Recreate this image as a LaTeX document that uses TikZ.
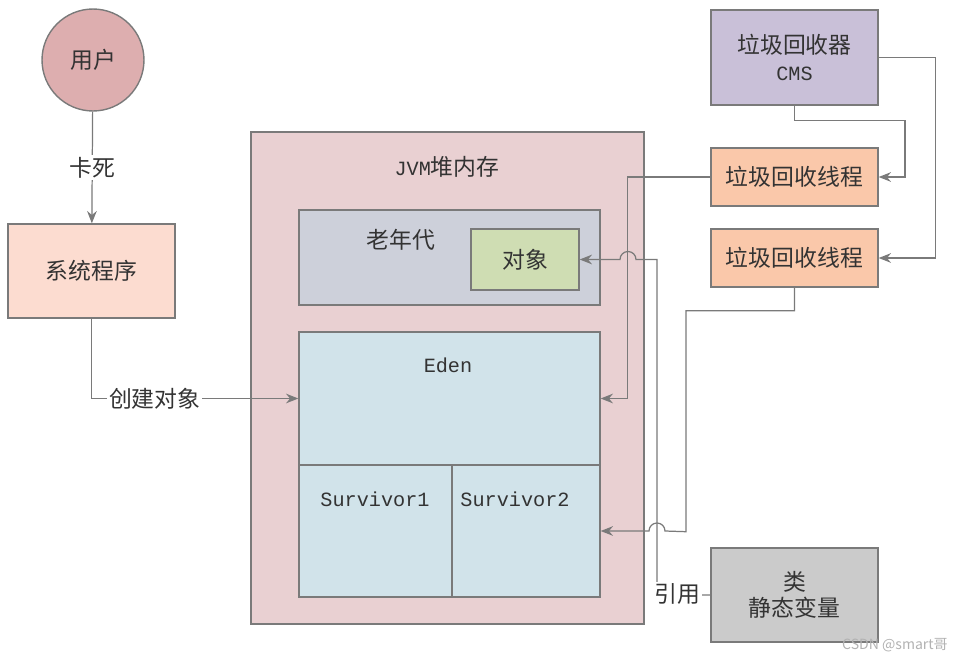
\documentclass[tikz,border=0pt]{standalone}
\usepackage{fontspec}
\setmainfont{Noto Sans CJK SC}
\newfontfamily\monofont{Liberation Mono}
\usetikzlibrary{arrows.meta,positioning}

\definecolor{linegray}{HTML}{7A7A7A}
\definecolor{txtgray}{HTML}{333333}
\definecolor{userfill}{HTML}{DDAEAF}
\definecolor{sysfill}{HTML}{FCDCD0}
\definecolor{jvmfill}{HTML}{E9D0D2}
\definecolor{oldfill}{HTML}{CDD0DA}
\definecolor{objfill}{HTML}{CFDDB3}
\definecolor{edenfill}{HTML}{D1E3EA}
\definecolor{cmsfill}{HTML}{C9C0D8}
\definecolor{gcfill}{HTML}{FAC8AA}
\definecolor{leifill}{HTML}{CBCBCB}

\tikzset{
    box/.style={draw=linegray, line width=0.8pt, rectangle, align=center,
                text=txtgray, font=\fontsize{13}{15}\selectfont, inner sep=0pt},
    conn/.style={draw=linegray, line width=0.7pt, -{Stealth[length=7pt,width=5.5pt]}},
    wire/.style={draw=linegray, line width=0.7pt},
    lbl/.style={fill=white, inner sep=1pt, text=txtgray, font=\fontsize{13}{15}\selectfont},
    tag/.style={text=txtgray, font=\fontsize{13}{15}\selectfont},
    monotag/.style={text=txtgray, font=\monofont\fontsize{11.5}{14}\selectfont}
}

\begin{document}
\begin{tikzpicture}[x=0.02cm, y=-0.02cm]
            \useasboundingbox (0,0) rectangle (961,663);

            % user and program
            \node [circle, draw=linegray, line width=0.8pt, fill=userfill, minimum size=2.04cm,
                   text=txtgray, font=\fontsize{13}{15}\selectfont] (user) at (93,60) {用户};
            \node [box, fill=sysfill, minimum width=3.34cm, minimum height=1.88cm] (sys) at (91.5,271) {系统程序};

            % heap
            \node [box, fill=jvmfill, minimum width=7.86cm, minimum height=9.84cm] (jvm) at (447.5,378) {};
            \node [monotag] (jvmlbl) at (447,167) {JVM\fontsize{13}{15}\selectfont\rmfamily 堆内存};

            \node [box, fill=oldfill, minimum width=6.02cm, minimum height=1.90cm] (old) at (449.5,257.5) {};
            \node [tag] (oldlbl) at (401,240) {老年代};
            \node [box, fill=objfill, minimum width=2.16cm, minimum height=1.22cm] (obj) at (525,259.5) {对象};

            \node [box, fill=edenfill, minimum width=6.02cm, minimum height=2.66cm] (eden) at (449.5,398.5) {};
            \node [monotag] (edenlbl) at (448,365) {Eden};
            \node [box, fill=edenfill, minimum width=3.06cm, minimum height=2.64cm] (survA) at (375.5,531) {};
            \node [monotag] (survAlbl) at (375,499) {Survivor1};
            \node [box, fill=edenfill, minimum width=2.96cm, minimum height=2.64cm] (survB) at (526,531) {};
            \node [monotag] (survBlbl) at (515,499) {Survivor2};

            % collector and threads
            \node [box, fill=cmsfill, minimum width=3.34cm, minimum height=1.90cm] (cms) at (794.5,57.5)
                  {垃圾回收器\\{\monofont\fontsize{11.5}{14}\selectfont CMS}};
            \foreach \nm/\yy in {gcA/177, gcB/258}{
                \node [box, fill=gcfill, minimum width=3.34cm, minimum height=1.16cm] (\nm) at (794.5,\yy) {垃圾回收线程};
            }

            % static class
            \node [box, fill=leifill, minimum width=3.34cm, minimum height=1.88cm] (lei) at (794.5,595) {类\\静态变量};

            % connectors
            \draw [conn] (user) -- node [lbl] {卡死} (sys);
            \draw [conn] (sys.south) |- node [lbl, pos=0.653] {创建对象} (eden.west);

            \draw [conn] (cms.south) -- ++(0,15) -| ++(110.5,0) |- (gcA.east);
            \draw [conn] (cms.east) -- ++(57,0) |- (gcB.east);

            \draw [conn] (gcA.west) -- ++(-83,0) |- (eden.east);
            \draw [conn] (gcB.south) -- ++(0,23) -- ++(-108.5,0) -- ++(0,221) -- (665,531)
                  arc (0:-180:8) -- (survB.east);

            \draw [conn] (lei.west) -- (657,595) -- (657,259.5) -- (636,259.5)
                  arc (0:-180:8) -- (obj.east);
            \node [lbl] (reflbl) at (677,594) {引用};

            % watermark
            \node [text=black!30, font=\fontsize{8}{10}\selectfont] (mark) at (895,645) {CSDN @smart哥};
        \end{tikzpicture}
\end{document}
